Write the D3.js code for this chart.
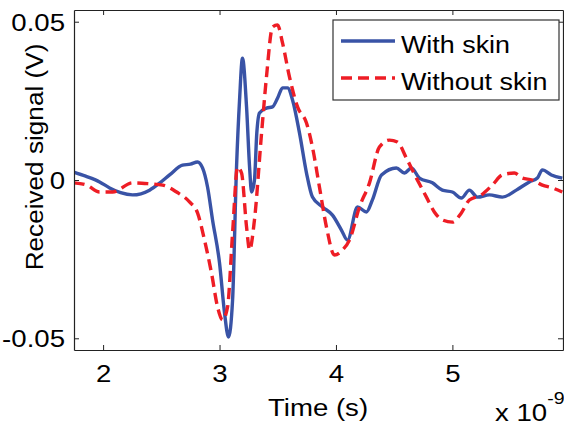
<!DOCTYPE html>
<html>
<head>
<meta charset="utf-8">
<script src="https://cdn.jsdelivr.net/npm/d3@7"></script>
<style>
  body { margin: 0; background: #fff; }
  text { font-family: "Liberation Sans", Arial, sans-serif; fill: #000; }
</style>
</head>
<body>
<svg id="chart" width="564" height="428"></svg>
<script>
// time in ns (axis shows x 10^-9), signal in V
var tWith = [1.747, 1.85, 1.970, 2.056, 2.15, 2.253, 2.399, 2.485, 2.571, 2.682, 2.75, 2.811, 2.854, 2.897, 2.940,
  3.000, 3.043, 3.077, 3.112, 3.146, 3.172, 3.197, 3.232, 3.258, 3.275, 3.300, 3.320, 3.343, 3.403, 3.455, 3.500,
  3.541, 3.584, 3.627, 3.687, 3.747, 3.798, 3.884, 3.970, 4.047, 4.099, 4.185, 4.262, 4.313, 4.391, 4.519, 4.588,
  4.648, 4.717, 4.828, 4.914, 5.000, 5.077, 5.146, 5.215, 5.318, 5.429, 5.549, 5.661, 5.730, 5.773, 5.850, 5.944];
var vWith = [0.0025, 0.0012, -0.0006, -0.0025, -0.0040, -0.0047, -0.0032, -0.0010, 0.0016, 0.0047, 0.0050, 0.0057, 0.0038, -0.0022, -0.0126,
  -0.0262, -0.0420, -0.0496, -0.0379, 0.0041, 0.0253, 0.0385, 0.0231, 0.0041, -0.0038, 0.0000, 0.0148, 0.0212, 0.0227, 0.0231, 0.0260,
  0.0291, 0.0291, 0.0253, 0.0148, 0.0022, -0.0054, -0.0085, -0.0111, -0.0158, -0.0190, -0.0085, -0.0101, -0.0063, 0.0016, 0.0038, 0.0022,
  0.0038, 0.0006, -0.0009, -0.0032, -0.0038, -0.0057, -0.0032, -0.0054, -0.0047, -0.0054, -0.0032, -0.0006, 0.0006, 0.0032, 0.0016, 0.0006];

var tWithout = [1.747, 1.858, 1.970, 2.082, 2.253, 2.399, 2.511, 2.631, 2.742, 2.811, 2.871, 2.931, 2.983, 3.026, 3.069,
  3.112, 3.155, 3.189, 3.232, 3.258, 3.300, 3.361, 3.403, 3.455, 3.498, 3.541, 3.601, 3.670, 3.747, 3.798, 3.858,
  3.918, 3.987, 4.056, 4.116, 4.202, 4.288, 4.373, 4.459, 4.528, 4.605, 4.691, 4.777, 4.845, 4.914, 5.000, 5.077,
  5.146, 5.249, 5.343, 5.429, 5.532, 5.601, 5.687, 5.773, 5.858, 5.944];
var vWithout = [-0.0009, -0.0016, -0.0038, -0.0038, -0.0009, -0.0012, -0.0016, -0.0038, -0.0069, -0.0104, -0.0190, -0.0294, -0.0401, -0.0442, -0.0401,
  -0.0167, 0.0041, 0.0022, -0.0148, -0.0221, -0.0126, 0.0148, 0.0325, 0.0483, 0.0490, 0.0433, 0.0325, 0.0231, 0.0180, 0.0104, -0.0022,
  -0.0148, -0.0237, -0.0221, -0.0190, -0.0085, -0.0009, 0.0104, 0.0126, 0.0120, 0.0069, 0.0006, -0.0054, -0.0101, -0.0126, -0.0133, -0.0104,
  -0.0063, -0.0047, -0.0016, 0.0016, 0.0022, 0.0006, 0.0000, -0.0016, -0.0025, -0.0038];

var xTicks = [2, 3, 4, 5];
var xTickLabels = ["2", "3", "4", "5"];
var yTicks = [-0.05, 0, 0.05];
var yTickLabels = ["-0.05", "0", "0.05"];
var seriesNames = ["With skin", "Without skin"];

var svg = d3.select("#chart");
var margins = {left: 74, right: 1, top: 10, bottom: 78};
var width = 564 - margins.left - margins.right;
var height = 428 - margins.top - margins.bottom;
var stretch = 1.15;

var x = d3.scaleLinear().domain([1.75, 5.95]).range([0, width]);
var y = d3.scaleLinear().domain([-0.0537, 0.0537]).range([height, 0]);

var g = svg.append("g").attr("transform", "translate(" + margins.left + "," + margins.top + ")");

g.append("defs").append("clipPath").attr("id", "clip")
  .append("rect").attr("width", width).attr("height", height);

// lines
var line = d3.line()
  .x(function(d) { return x(d[0]); })
  .y(function(d) { return y(d[1]); })
  .curve(d3.curveMonotoneX);

var plot = g.append("g").attr("clip-path", "url(#clip)");
plot.append("path")
  .datum(d3.zip(tWith, vWith))
  .attr("d", line)
  .attr("fill", "none")
  .attr("stroke", "#3953a6")
  .attr("stroke-width", 3.4)
  .attr("stroke-linejoin", "round");
plot.append("path")
  .datum(d3.zip(tWithout, vWithout))
  .attr("d", line)
  .attr("fill", "none")
  .attr("stroke", "#ee1d25")
  .attr("stroke-width", 3.4)
  .attr("stroke-dasharray", "11,6");

// axes (box with inward ticks)
function styleAxis(sel) {
  sel.select(".domain").attr("stroke", "#222").attr("stroke-width", 1.2);
  sel.selectAll(".tick line").attr("stroke", "#222");
}
var xAxis = g.append("g").attr("transform", "translate(0," + height + ")")
  .call(d3.axisBottom(x).tickValues(xTicks).tickSize(-5).tickSizeOuter(0)
    .tickFormat(function(d, i) { return xTickLabels[i]; }));
styleAxis(xAxis);
xAxis.selectAll(".tick text")
  .attr("y", 32).attr("dy", null)
  .attr("font-size", 24)
  .attr("transform", "scale(" + stretch + ",1)");

var topAxis = g.append("g")
  .call(d3.axisTop(x).tickValues(xTicks).tickSize(-5).tickSizeOuter(0).tickFormat(""));
styleAxis(topAxis);

var yAxis = g.append("g")
  .call(d3.axisLeft(y).tickValues(yTicks).tickSize(-5).tickSizeOuter(0)
    .tickFormat(function(d, i) { return yTickLabels[i]; }));
styleAxis(yAxis);
yAxis.selectAll(".tick text")
  .attr("x", -9 / stretch).attr("dy", "0.35em")
  .attr("font-size", 24)
  .attr("transform", "scale(" + stretch + ",1)");

var rightAxis = g.append("g").attr("transform", "translate(" + width + ",0)")
  .call(d3.axisRight(y).tickValues(yTicks).tickSize(-5).tickSizeOuter(0).tickFormat(""));
styleAxis(rightAxis);

// labels
svg.append("text")
  .attr("transform", "translate(318,416) scale(" + stretch + ",1)")
  .attr("text-anchor", "middle").attr("font-size", 24)
  .text("Time (s)");
svg.append("text")
  .attr("transform", "translate(43,157) rotate(-90) scale(1.09,1)")
  .attr("text-anchor", "middle").attr("font-size", 24)
  .text("Received signal (V)");
var mult = svg.append("text")
  .attr("transform", "translate(495,421) scale(" + stretch + ",1)")
  .attr("font-size", 24);
mult.append("tspan").text("x 10");
mult.append("tspan").attr("font-size", 17).attr("dy", -17).text("-9");

// legend
var legend = svg.append("g").attr("transform", "translate(333,20)");
legend.append("rect")
  .attr("width", 226).attr("height", 80)
  .attr("fill", "#fff").attr("stroke", "#333").attr("stroke-width", 1.2);
var legendColors = ["#3953a6", "#ee1d25"];
var legendDash = [null, "11,6"];
seriesNames.forEach(function(name, i) {
  var ly = 21 + i * 37;
  legend.append("line")
    .attr("x1", 8).attr("x2", 62).attr("y1", ly).attr("y2", ly)
    .attr("stroke", legendColors[i]).attr("stroke-width", 3.4)
    .attr("stroke-dasharray", legendDash[i]);
  legend.append("text")
    .attr("transform", "translate(68," + (ly + 12) + ") scale(1.12,1)")
    .attr("font-size", 24)
    .text(name);
});
</script>
</body>
</html>
